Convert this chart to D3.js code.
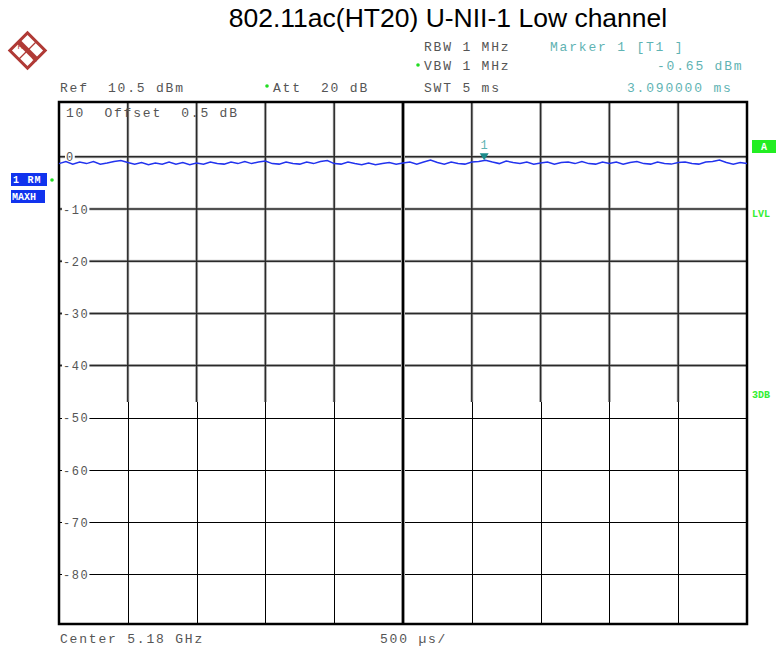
<!DOCTYPE html>
<html><head><meta charset="utf-8">
<script src="https://cdn.jsdelivr.net/npm/d3@7"></script>
<style>body{margin:0;background:#fff}</style>
</head><body>
<svg id="c" width="781" height="650"></svg>
<script>
const title = "802.11ac(HT20) U-NII-1 Low channel";
// sweep time axis (ms), 10 divisions of 500 µs
const timeGrid = [0, 0.5, 1.0, 1.5, 2.0, 2.5, 3.0, 3.5, 4.0, 4.5, 5.0];
// level grid (dBm)
const levelTicks = [0, -10, -20, -30, -40, -50, -60, -70, -80];
const levelTickLabels = ["0", "-10", "-20", "-30", "-40", "-50", "-60", "-70", "-80"];
// trace samples every 50 µs (ms, dBm)
const traceTimes = [0,0.05,0.1,0.15,0.2,0.25,0.3,0.35,0.4,0.45,0.5,0.55,0.6,0.65,0.7,0.75,0.8,0.85,0.9,0.95,
  1,1.05,1.1,1.15,1.2,1.25,1.3,1.35,1.4,1.45,1.5,1.55,1.6,1.65,1.7,1.75,1.8,1.85,1.9,1.95,
  2,2.05,2.1,2.15,2.2,2.25,2.3,2.35,2.4,2.45,2.5,2.55,2.6,2.65,2.7,2.75,2.8,2.85,2.9,2.95,
  3,3.05,3.1,3.15,3.2,3.25,3.3,3.35,3.4,3.45,3.5,3.55,3.6,3.65,3.7,3.75,3.8,3.85,3.9,3.95,
  4,4.05,4.1,4.15,4.2,4.25,4.3,4.35,4.4,4.45,4.5,4.55,4.6,4.65,4.7,4.75,4.8,4.85,4.9,4.95,5];
const traceLevels = [-1.3,-0.9,-1.4,-1.0,-1.3,-0.9,-1.4,-1.2,-0.9,-0.7,-1.1,-1.4,-1.1,-1.5,-1.2,-1.4,-1.0,-1.4,-1.1,-1.5,
  -1.2,-1.4,-1.0,-1.3,-1.4,-1.0,-1.3,-0.9,-1.3,-1.0,-0.8,-1.3,-1.4,-1.0,-1.3,-1.4,-1.0,-1.3,-0.9,-0.7,
  -1.3,-1.4,-1.0,-1.3,-1.5,-1.2,-1.5,-1.3,-1.1,-1.4,-1.2,-1.0,-1.4,-1.0,-0.6,-1.1,-1.4,-1.0,-1.3,-1.4,
  -1.0,-0.9,-0.65,-1.0,-1.3,-0.8,-1.1,-1.3,-1.0,-1.4,-1.2,-1.0,-1.4,-1.1,-1.0,-1.3,-0.9,-1.3,-1.4,-1.0,
  -1.3,-1.0,-1.4,-1.1,-0.9,-1.3,-1.4,-1.0,-1.3,-1.4,-1.1,-1.0,-1.3,-1.4,-1.0,-0.9,-0.6,-1.1,-1.4,-1.1,-1.3];
const markerTime = 3.09, markerLevel = -0.65;

const svg = d3.select("#c");
const L = 59, R = 747, T = 102, B = 624, SPLIT = 402;
const x = d3.scaleLinear().domain([0, 5]).range([L, R]);
const y = d3.scaleLinear().domain([-89.5, 10.5]).range([B, T]);
const mono = "'Liberation Mono','DejaVu Sans Mono',monospace";

svg.append("rect").attr("width", 781).attr("height", 650).attr("fill", "#fff");

// Title
svg.append("text").attr("x", 448).attr("y", 27).attr("text-anchor", "middle")
  .attr("font-family", "'Liberation Sans',Arial,sans-serif").attr("font-size", 26.5)
  .attr("fill", "#000").text(title);

// R&S logo
const logo = svg.append("g").attr("transform", "translate(27.5,50.5)");
logo.append("rect").attr("x", -12.5).attr("y", -12.5).attr("width", 25).attr("height", 25)
  .attr("transform", "rotate(45)").attr("fill", "none").attr("stroke", "#b03a36").attr("stroke-width", 3);
logo.append("line").attr("x1", -9).attr("y1", -9).attr("x2", 9).attr("y2", 9)
  .attr("stroke", "#b03a36").attr("stroke-width", 5);
logo.append("line").attr("x1", 9).attr("y1", -9).attr("x2", -9).attr("y2", 9)
  .attr("stroke", "#b03a36").attr("stroke-width", 1.2);
logo.append("text").attr("x", -7).attr("y", -2).attr("font-size", 8).attr("font-family", "'Liberation Sans',sans-serif")
  .attr("fill", "#b03a36").attr("text-anchor", "middle").text("R");
logo.append("text").attr("x", 7).attr("y", 11).attr("font-size", 8).attr("font-family", "'Liberation Sans',sans-serif")
  .attr("fill", "#b03a36").attr("text-anchor", "middle").text("S");

// header texts
function mtext(tx, ty, s, fill) {
  return svg.append("text").attr("x", tx).attr("y", ty).attr("font-family", mono)
    .attr("font-size", 13).attr("letter-spacing", 1.8).attr("fill", fill || "#555")
    .attr("xml:space", "preserve").style("white-space", "pre").text(s);
}
mtext(60, 92, "Ref  10.5 dBm");
mtext(273, 92, "Att  20 dB");
mtext(424, 51, "RBW 1 MHz");
mtext(424, 70, "VBW 1 MHz");
mtext(424, 92, "SWT 5 ms");
mtext(550, 51, "Marker 1 [T1 ]", "#5fb3b3");
mtext(657, 70, "-0.65 dBm", "#5fb3b3");
mtext(627, 92, "3.090000 ms", "#5fb3b3");
mtext(60, 643, "Center 5.18 GHz");
mtext(380, 643, "500 µs/");
svg.append("circle").attr("cx", 267).attr("cy", 86).attr("r", 1.8).attr("fill", "#22dd22");
svg.append("circle").attr("cx", 418).attr("cy", 65).attr("r", 1.8).attr("fill", "#22dd22");

// clips
const defs = svg.append("defs");
defs.append("clipPath").attr("id", "up").append("rect").attr("x", 0).attr("y", T).attr("width", 781).attr("height", SPLIT - T);
defs.append("clipPath").attr("id", "lo").append("rect").attr("x", 0).attr("y", SPLIT).attr("width", 781).attr("height", B - SPLIT);

const inner = timeGrid.slice(1, -1);
const up = svg.append("g").attr("clip-path", "url(#up)");
const lo = svg.append("g").attr("clip-path", "url(#lo)");

// upper half: slightly blurred heavier lines
[["#c4c4c4", 3], ["#2a2a2a", 1.5]].forEach(([c, w]) => {
  up.selectAll(null).data(inner).join("line")
    .attr("x1", d => x(d)).attr("x2", d => x(d)).attr("y1", T).attr("y2", SPLIT)
    .attr("stroke", c).attr("stroke-width", w);
  up.selectAll(null).data(levelTicks.filter(d => y(d) < SPLIT)).join("line")
    .attr("x1", L).attr("x2", R).attr("y1", d => y(d)).attr("y2", d => y(d))
    .attr("stroke", c).attr("stroke-width", w);
});
// lower half: crisp lines
lo.selectAll(null).data(inner).join("line")
  .attr("x1", d => Math.round(x(d)) + 0.5).attr("x2", d => Math.round(x(d)) + 0.5).attr("y1", SPLIT).attr("y2", B)
  .attr("stroke", "#000").attr("stroke-width", 1);
lo.selectAll(null).data(levelTicks.filter(d => y(d) >= SPLIT)).join("line")
  .attr("x1", L).attr("x2", R).attr("y1", d => Math.round(y(d)) + 0.5).attr("y2", d => Math.round(y(d)) + 0.5)
  .attr("stroke", "#000").attr("stroke-width", 1.2);

// center line
svg.append("line").attr("x1", x(2.5)).attr("x2", x(2.5)).attr("y1", T).attr("y2", B)
  .attr("stroke", "#aaa").attr("stroke-width", 4);
svg.append("line").attr("x1", x(2.5)).attr("x2", x(2.5)).attr("y1", T).attr("y2", B)
  .attr("stroke", "#000").attr("stroke-width", 2.2);

// frame
svg.append("rect").attr("x", L).attr("y", T).attr("width", R - L).attr("height", B - T)
  .attr("fill", "none").attr("stroke", "#000").attr("stroke-width", 2.5);

// level labels with white backing
const lab = svg.append("g");
levelTicks.forEach((v, i) => {
  const s = levelTickLabels[i];
  const w = s.length * 8.8;
  const lx = v === 0 ? 66 : 63;
  lab.append("rect").attr("x", lx - 1).attr("y", y(v) - 6).attr("width", w + 1).attr("height", 12).attr("fill", "#fff");
  lab.append("text").attr("x", lx).attr("y", y(v) + 4.5).attr("font-family", mono).attr("font-size", 12)
    .attr("letter-spacing", 1.6).attr("fill", "#555").text(s);
});

// offset text
mtext(66, 117, "10  Offset  0.5 dB");

// trace
const pts = traceTimes.map((t, i) => [t, traceLevels[i]]);
svg.append("path").datum(pts)
  .attr("d", d3.line().x(d => x(d[0])).y(d => y(d[1])))
  .attr("fill", "none").attr("stroke", "#2233ee").attr("stroke-width", 1.5);

// marker
const mx = x(markerTime), my = y(markerLevel);
svg.append("path").attr("d", `M${mx - 4.5},${my - 7}L${mx + 4.5},${my - 7}L${mx},${my}Z`).attr("fill", "#1a8a8a");
svg.append("text").attr("x", mx).attr("y", my - 11).attr("text-anchor", "middle").attr("font-family", mono)
  .attr("font-size", 12).attr("fill", "#5fb3b3").text("1");

// left blue labels
svg.append("rect").attr("x", 11).attr("y", 173).attr("width", 36).attr("height", 13).attr("fill", "#1133ee");
svg.append("rect").attr("x", 11).attr("y", 190).attr("width", 34).attr("height", 13).attr("fill", "#1133ee");
svg.append("text").attr("x", 13).attr("y", 183).attr("font-family", mono).attr("font-size", 10).attr("font-weight", "bold")
  .attr("letter-spacing", 1.2).attr("fill", "#fff").style("white-space", "pre").text("1 RM");
svg.append("text").attr("x", 12).attr("y", 200).attr("font-family", mono).attr("font-size", 10).attr("font-weight", "bold")
  .attr("fill", "#fff").text("MAXH");
svg.append("circle").attr("cx", 52).attr("cy", 180).attr("r", 1.8).attr("fill", "#22dd22");

// right green markers
svg.append("rect").attr("x", 752).attr("y", 140).attr("width", 24).attr("height", 13).attr("fill", "#22ee22");
svg.append("text").attr("x", 764).attr("y", 150).attr("text-anchor", "middle").attr("font-family", mono)
  .attr("font-size", 10).attr("font-weight", "bold").attr("fill", "#fff").text("A");
svg.append("text").attr("x", 752).attr("y", 217).attr("font-family", mono).attr("font-size", 10).attr("font-weight", "bold")
  .attr("fill", "#33ee33").text("LVL");
svg.append("text").attr("x", 752).attr("y", 398).attr("font-family", mono).attr("font-size", 10).attr("font-weight", "bold")
  .attr("fill", "#33ee33").text("3DB");
</script>
</body></html>
